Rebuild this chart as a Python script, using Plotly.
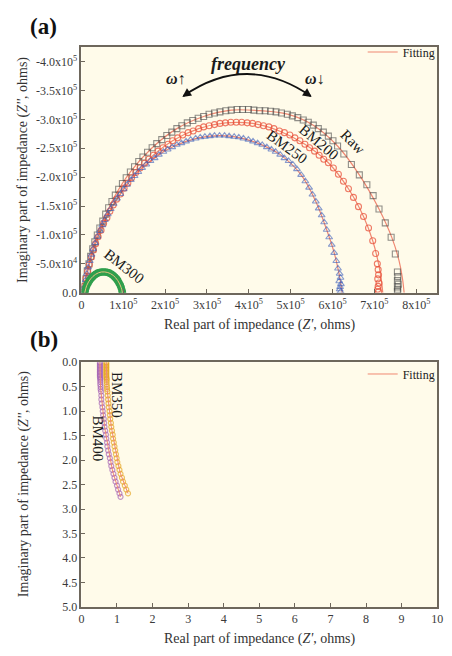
import numpy as np
import plotly.graph_objects as go

W, H = 452, 656
FONT = "Liberation Serif"
FRAME = "#6e675c"
BG = "#fffbea"
FIT = "#f08872"

# ---------------- panel (a): Z' and -Z'' in units of 1e5 ohm ----------------
raw_re = [0.05, 0.06, 0.08, 0.11, 0.14, 0.18, 0.22, 0.27, 0.32, 0.38, 0.44, 0.51, 0.58, 0.65, 0.73,
          0.81, 0.89, 0.98, 1.07, 1.17, 1.27, 1.37, 1.47, 1.58, 1.69, 1.80, 1.92, 2.04, 2.16, 2.28,
          2.40, 2.53, 2.66, 2.79, 2.92, 3.05, 3.18, 3.31, 3.45, 3.58, 3.72, 3.85, 3.99, 4.12, 4.26,
          4.39, 4.52, 4.65, 4.78, 4.92, 5.04, 5.17, 5.30, 5.42, 5.54, 5.66, 5.78, 5.90, 6.01, 6.12,
          6.27, 6.45, 6.64, 6.82, 6.97, 7.11, 7.26, 7.40, 7.50, 7.55,
          7.56, 7.55, 7.57, 7.55, 7.56, 7.55]
raw_im = [0.00, 0.05, 0.11, 0.24, 0.38, 0.50, 0.63, 0.76, 0.88, 1.00, 1.12, 1.24, 1.36, 1.47, 1.58,
          1.69, 1.79, 1.89, 1.99, 2.09, 2.18, 2.27, 2.35, 2.43, 2.51, 2.58, 2.65, 2.72, 2.78, 2.84,
          2.89, 2.94, 2.98, 3.02, 3.05, 3.09, 3.11, 3.13, 3.15, 3.16, 3.17, 3.17, 3.17, 3.16, 3.15,
          3.15, 3.14, 3.13, 3.11, 3.09, 3.06, 3.03, 2.99, 2.95, 2.90, 2.84, 2.78, 2.71, 2.63, 2.54,
          2.40, 2.22, 2.04, 1.87, 1.68, 1.45, 1.21, 0.96, 0.67, 0.36,
          0.28, 0.21, 0.15, 0.10, 0.06, 0.02]

bm200_re = [0.05, 0.08, 0.11, 0.15, 0.19, 0.24, 0.29, 0.34, 0.40, 0.47, 0.53, 0.61, 0.68, 0.76, 0.84,
            0.93, 1.02, 1.11, 1.20, 1.30, 1.40, 1.51, 1.61, 1.72, 1.83, 1.95, 2.07, 2.18, 2.30, 2.42,
            2.55, 2.67, 2.80, 2.92, 3.05, 3.18, 3.31, 3.44, 3.57, 3.70, 3.83, 3.96, 4.09, 4.22, 4.35,
            4.48, 4.60, 4.73, 4.85, 4.98, 5.10, 5.22, 5.34, 5.45, 5.57, 5.68, 5.79,
            5.90, 6.02, 6.14, 6.26, 6.38, 6.50, 6.62, 6.74, 6.86, 6.96, 7.03,
            7.07, 7.09, 7.10, 7.08, 7.11, 7.09, 7.08, 7.10]
bm200_im = [0.00, 0.12, 0.25, 0.37, 0.49, 0.62, 0.74, 0.85, 0.97, 1.08, 1.20, 1.30, 1.41, 1.52, 1.62,
            1.71, 1.81, 1.90, 1.99, 2.08, 2.16, 2.24, 2.31, 2.38, 2.45, 2.51, 2.57, 2.63, 2.68, 2.73,
            2.77, 2.80, 2.84, 2.87, 2.89, 2.91, 2.93, 2.94, 2.95, 2.95, 2.95, 2.94, 2.93, 2.91, 2.89,
            2.87, 2.84, 2.80, 2.77, 2.73, 2.68, 2.63, 2.57, 2.51, 2.45, 2.38, 2.31,
            2.25, 2.16, 2.05, 1.93, 1.80, 1.65, 1.49, 1.32, 1.12, 0.90, 0.68,
            0.50, 0.40, 0.31, 0.24, 0.17, 0.11, 0.06, 0.02]

bm250_re = [0.05, 0.07, 0.10, 0.13, 0.16, 0.20, 0.24, 0.28, 0.33, 0.38, 0.44, 0.50, 0.56, 0.63, 0.70,
            0.77, 0.85, 0.93, 1.01, 1.09, 1.18, 1.27, 1.36, 1.45, 1.55, 1.65, 1.75, 1.85, 1.96, 2.06,
            2.17, 2.28, 2.39, 2.50, 2.61, 2.73, 2.84, 2.95, 3.07, 3.18, 3.30, 3.42, 3.53, 3.65, 3.76,
            3.87, 3.99, 4.10, 4.21, 4.32, 4.43, 4.54, 4.64, 4.75, 4.85, 4.95, 5.05,
            5.15, 5.25, 5.35, 5.44, 5.52, 5.60, 5.67, 5.74, 5.80, 5.86, 5.92, 5.98, 6.04, 6.09, 6.13,
            6.17, 6.19, 6.16, 6.20, 6.18, 6.17, 6.19]
bm250_im = [0.00, 0.10, 0.22, 0.33, 0.44, 0.55, 0.66, 0.76, 0.86, 0.97, 1.07, 1.17, 1.26, 1.36, 1.45,
            1.54, 1.63, 1.71, 1.79, 1.87, 1.95, 2.02, 2.09, 2.16, 2.22, 2.28, 2.33, 2.39, 2.44, 2.48,
            2.52, 2.56, 2.59, 2.62, 2.65, 2.67, 2.69, 2.70, 2.71, 2.72, 2.72, 2.72, 2.71, 2.70, 2.69,
            2.67, 2.65, 2.62, 2.59, 2.56, 2.52, 2.48, 2.44, 2.39, 2.33, 2.28, 2.22,
            2.14, 2.04, 1.93, 1.82, 1.70, 1.58, 1.46, 1.34, 1.22, 1.09, 0.96, 0.83, 0.69, 0.55, 0.42,
            0.33, 0.26, 0.20, 0.15, 0.10, 0.06, 0.02]

bm300_re = [0.08, 0.09, 0.11, 0.13, 0.16, 0.19, 0.22, 0.26, 0.30, 0.34, 0.39, 0.43, 0.48, 0.53,
            0.58, 0.63, 0.67, 0.72, 0.76, 0.80, 0.84, 0.87, 0.90, 0.93, 0.95, 0.97, 0.98]
bm300_im = [0.00, 0.04, 0.09, 0.13, 0.17, 0.21, 0.24, 0.27, 0.30, 0.32, 0.34, 0.35, 0.36, 0.36,
            0.36, 0.35, 0.34, 0.32, 0.30, 0.27, 0.24, 0.21, 0.17, 0.13, 0.09, 0.04, 0.00]

# fitted equivalent-circuit curves (same units)
fit_raw_re = [0.05, 0.14, 0.38, 0.73, 1.17, 1.69, 2.28, 2.92, 3.58, 4.26, 4.92, 5.54, 6.12, 6.64,
              7.11, 7.42, 7.59, 7.67, 7.71]
fit_raw_im = [0.00, 0.38, 1.00, 1.58, 2.09, 2.51, 2.84, 3.05, 3.16, 3.15, 3.09, 2.90, 2.54, 2.04,
              1.45, 0.95, 0.55, 0.25, 0.00]
fit_200_re = [0.05, 0.11, 0.34, 0.68, 1.11, 1.61, 2.18, 2.80, 3.44, 4.09, 4.73, 5.34, 5.90, 6.38,
              6.74, 6.96, 7.10, 7.17, 7.20]
fit_200_im = [0.00, 0.25, 0.85, 1.41, 1.90, 2.31, 2.63, 2.84, 2.94, 2.93, 2.80, 2.57, 2.25, 1.80,
              1.32, 0.90, 0.50, 0.20, 0.00]
fit_250_re = [0.05, 0.13, 0.33, 0.63, 1.01, 1.45, 1.96, 2.50, 3.07, 3.65, 4.21, 4.75, 5.25, 5.60,
              5.86, 6.04, 6.15, 6.21, 6.23]
fit_250_im = [0.00, 0.33, 0.86, 1.36, 1.79, 2.16, 2.44, 2.62, 2.71, 2.70, 2.59, 2.39, 2.04, 1.58,
              1.09, 0.69, 0.35, 0.10, 0.00]
fit_300_re = [0.08, 0.13, 0.22, 0.34, 0.48, 0.63, 0.76, 0.87, 0.95, 0.98]
fit_300_im = [0.00, 0.13, 0.24, 0.32, 0.36, 0.35, 0.30, 0.21, 0.09, 0.00]

# ---------------- panel (b): Z' and Z'' in ohm ----------------
bm350_im = [0.00, 0.03, 0.06, 0.09, 0.12, 0.15, 0.18, 0.21, 0.24, 0.27, 0.30, 0.33, 0.36, 0.40,
            0.45, 0.50, 0.55, 0.60, 0.68, 0.76, 0.84, 0.92, 1.00, 1.08, 1.16, 1.24, 1.32, 1.40,
            1.48, 1.56, 1.64, 1.72, 1.80, 1.88, 1.96, 2.04, 2.12, 2.20, 2.28, 2.36, 2.44, 2.52,
            2.60, 2.68]
bm350_re = [0.70, 0.70, 0.70, 0.70, 0.70, 0.70, 0.70, 0.70, 0.70, 0.70, 0.70, 0.71, 0.71, 0.71,
            0.71, 0.72, 0.72, 0.73, 0.74, 0.75, 0.76, 0.77, 0.79, 0.80, 0.81, 0.83, 0.84, 0.86,
            0.88, 0.89, 0.91, 0.93, 0.95, 0.97, 0.99, 1.01, 1.04, 1.07, 1.10, 1.14, 1.17, 1.22,
            1.26, 1.31]
bm400_im = [0.00, 0.03, 0.06, 0.09, 0.12, 0.15, 0.18, 0.21, 0.24, 0.27, 0.30, 0.33, 0.36, 0.40,
            0.45, 0.50, 0.55, 0.60, 0.68, 0.76, 0.84, 0.92, 1.00, 1.08, 1.16, 1.24, 1.32, 1.40,
            1.48, 1.56, 1.64, 1.72, 1.80, 1.88, 1.96, 2.04, 2.12, 2.20, 2.28, 2.36, 2.44, 2.52,
            2.60, 2.68, 2.75]
bm400_re = [0.52, 0.52, 0.52, 0.52, 0.52, 0.52, 0.52, 0.52, 0.52, 0.52, 0.52, 0.53, 0.53, 0.53,
            0.53, 0.54, 0.54, 0.55, 0.56, 0.56, 0.57, 0.59, 0.60, 0.61, 0.63, 0.64, 0.65, 0.67,
            0.69, 0.70, 0.72, 0.73, 0.75, 0.77, 0.80, 0.82, 0.84, 0.87, 0.90, 0.93, 0.96, 1.00,
            1.03, 1.07, 1.10]

xa_ticks = [0, 1, 2, 3, 4, 5, 6, 7, 8]
ya_ticks = [0.0, 0.5, 1.0, 1.5, 2.0, 2.5, 3.0, 3.5, 4.0]
xb_ticks = list(range(0, 11))
yb_ticks = [0.0, 0.5, 1.0, 1.5, 2.0, 2.5, 3.0, 3.5, 4.0, 4.5, 5.0]

UNIT = 1e5


def re_a(v):
    return np.asarray(v) * UNIT


def im_a(v):
    # stored as -Z''; the axis shows the signed Z''
    return -np.asarray(v) * UNIT


def paper(px, py):
    return px / W, 1 - py / H


fig = go.Figure()

# fitted curves under the markers
for fx, fy, show in [(fit_raw_re, fit_raw_im, True), (fit_200_re, fit_200_im, False),
                     (fit_250_re, fit_250_im, False)]:
    fig.add_trace(go.Scatter(x=re_a(fx), y=im_a(fy), mode="lines", line=dict(color=FIT, width=1.2, shape="spline"),
                             name="Fitting", showlegend=show, legend="legend", xaxis="x", yaxis="y"))

series_a = [
    ("Raw", raw_re, raw_im, "square-open", "rgba(70,70,70,0.6)"),
    ("BM200", bm200_re, bm200_im, "circle-open", "rgba(232,80,58,0.75)"),
    ("BM250", bm250_re, bm250_im, "triangle-up-open", "rgba(55,90,185,0.6)"),
]
for name, xs, ys, sym, col in series_a:
    fig.add_trace(go.Scatter(x=re_a(xs), y=im_a(ys), mode="markers", name=name, showlegend=False,
                             marker=dict(symbol=sym, size=6, color=col, line=dict(width=1.1)),
                             xaxis="x", yaxis="y"))

fig.add_trace(go.Scatter(x=re_a(bm300_re), y=im_a(bm300_im), mode="lines+markers", name="BM300", showlegend=False,
                         line=dict(color="#33a351", width=4, shape="spline"),
                         marker=dict(symbol="circle-open", size=6, color="#2f9f4c", line=dict(width=1.6)),
                         xaxis="x", yaxis="y"))
fig.add_trace(go.Scatter(x=re_a(fit_300_re), y=im_a(fit_300_im), mode="lines", showlegend=False,
                         line=dict(color="#e8c080", width=1, shape="spline"), xaxis="x", yaxis="y"))

# panel (b)
for name, xs, ys, col in [("BM350", bm350_re, bm350_im, "rgba(228,158,20,0.62)"),
                          ("BM400", bm400_re, bm400_im, "rgba(160,88,176,0.62)")]:
    fig.add_trace(go.Scatter(x=xs, y=ys, mode="markers", name=name, showlegend=False,
                             marker=dict(symbol="circle-open", size=5, color=col, line=dict(width=1.2)),
                             xaxis="x2", yaxis="y2"))
for i, (xs, ys) in enumerate([(bm350_re, bm350_im), (bm400_re, bm400_im)]):
    fig.add_trace(go.Scatter(x=xs, y=ys, mode="lines", name="Fitting", showlegend=(i == 0), legend="legend2",
                             line=dict(color=FIT, width=1), xaxis="x2", yaxis="y2"))

axis_common = dict(showgrid=False, zeroline=False, showline=True, linecolor=FRAME, linewidth=1.5, mirror=True,
                   ticks="inside", ticklen=4, tickwidth=1.2, tickcolor=FRAME,
                   tickfont=dict(family=FONT, size=12, color="#3a3a3a"))
x_dom = [80 / W, 443 / W]

fig.update_layout(
    width=W, height=656, margin=dict(l=0, r=0, t=0, b=0), autosize=False,
    paper_bgcolor="white", plot_bgcolor=BG,
    xaxis=dict(domain=x_dom, anchor="y", range=[0, 8.5 * UNIT], tickvals=[t * UNIT for t in xa_ticks],
               ticktext=["0"] + [f"{t}x10<sup>5</sup>" for t in xa_ticks[1:]], **axis_common),
    yaxis=dict(domain=[1 - 292 / H, 1 - 41 / H], anchor="x", range=[0, -4.25 * UNIT],
               tickvals=[-t * UNIT for t in ya_ticks],
               ticktext=["0.0", "-5.0x10<sup>4</sup>"] + [f"-{t:.1f}x10<sup>5</sup>" for t in ya_ticks[2:]],
               **axis_common),
    xaxis2=dict(domain=x_dom, anchor="y2", range=[0, 10], tickvals=xb_ticks,
                ticktext=[str(t) for t in xb_ticks], **axis_common),
    yaxis2=dict(domain=[1 - 613 / H, 1 - 363 / H], anchor="x2", range=[5, 0], tickvals=yb_ticks,
                ticktext=[f"{t:.1f}" for t in yb_ticks], **axis_common),
    legend=dict(x=367 / W, y=1 - 46 / H, xanchor="left", yanchor="middle", bgcolor="rgba(0,0,0,0)",
                font=dict(family=FONT, size=12, color="#222"), itemwidth=30),
    legend2=dict(x=367 / W, y=1 - 375 / H, xanchor="left", yanchor="middle", bgcolor="rgba(0,0,0,0)",
                 font=dict(family=FONT, size=12, color="#222"), itemwidth=30),
)

ann = []


def label(text, px, py, size=14, angle=0, color="#1a1a1a"):
    x, y = paper(px, py)
    ann.append(dict(text=text, x=x, y=y, xref="paper", yref="paper", showarrow=False, textangle=angle,
                    xanchor="center", yanchor="middle", font=dict(family=FONT, size=size, color=color)))


label("<b>(a)</b>", 41, 20, size=23, color="#111")
label("<b>(b)</b>", 42, 340, size=23, color="#111")
label("Imaginary part of impedance (<i>Z''</i>, ohms)", 21, 167, size=14, angle=-90, color="#333")
label("Real part of impedance (<i>Z'</i>, ohms)", 262, 325, size=14, color="#333")
label("Imaginary part of impedance (<i>Z''</i>, ohms)", 21, 488, size=14, angle=-90, color="#333")
label("Real part of impedance (<i>Z'</i>, ohms)", 262, 646, size=14, color="#333")

label("BM300", 123, 265, size=15, angle=38)
label("BM250", 290, 143, size=15, angle=36)
label("BM200", 322, 138, size=15, angle=40)
label("Raw", 357, 138, size=15, angle=45)
label("BM350", 117, 396, size=15, angle=90)
label("BM400", 97, 441, size=15, angle=90)

label("<b><i>frequency</i></b>", 250, 58, size=18)
label("<b><i>ω</i></b>↑", 177, 73, size=16)
label("<b><i>ω</i></b>↓", 318, 73, size=16)

# arrowheads at both ends of the frequency arc
for tipx, tipy, ax in [(183, 92, 7), (315, 92, -7)]:
    x, y = paper(tipx, tipy)
    ann.append(dict(text="", x=x, y=y, xref="paper", yref="paper", showarrow=True, ax=ax, ay=-5,
                    arrowhead=2, arrowsize=1.1, arrowwidth=1.6, arrowcolor="#111"))

fig.update_layout(annotations=ann)

x0, y0 = paper(184, 91)
xc, yc = paper(249, 46)
x1, y1 = paper(314, 91)
fig.add_shape(type="path", xref="paper", yref="paper", path=f"M {x0},{y0} Q {xc},{yc} {x1},{y1}",
              line=dict(color="#111", width=1.8))

fig.write_html("out.html")
